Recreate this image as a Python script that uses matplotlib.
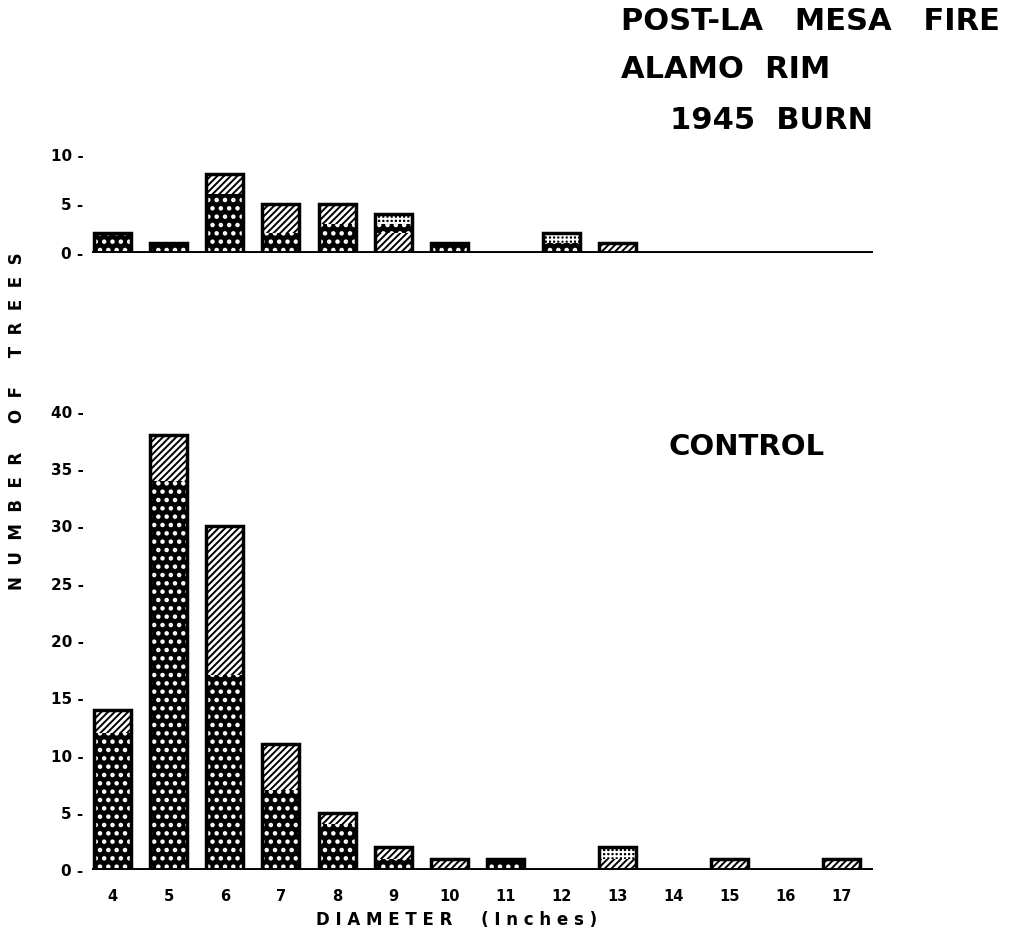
import numpy as np
import matplotlib
matplotlib.use("Agg")
import matplotlib.pyplot as plt

plt.rcParams['font.family'] = ['DejaVu Sans']
plt.rcParams['font.weight'] = 'bold'

diameters = [4, 5, 6, 7, 8, 9, 10, 11, 12, 13, 14, 15, 16, 17]

# 1945 burn
burn_dotted = [2, 1, 6, 2, 3, 1, 1, 0, 1, 0, 0, 0, 0, 0]
burn_hatched = [0, 0, 2, 3, 2, 2, 0, 0, 0, 1, 0, 0, 0, 0]
burn_other = [0, 0, 0, 0, 0, 1, 0, 0, 1, 0, 0, 0, 0, 0]
burn_hatched_first = [9]

# control
ctrl_dotted = [12, 34, 17, 7, 4, 1, 0, 1, 0, 0, 0, 0, 0, 0]
ctrl_hatched = [2, 4, 13, 4, 1, 1, 1, 0, 0, 1, 0, 1, 0, 1]
ctrl_other = [0, 0, 0, 0, 0, 0, 0, 0, 0, 1, 0, 0, 0, 0]
ctrl_hatched_first = []

W = 0.66


def draw_panel(ax, dotted, hatched, other, hatched_first):
    x = np.array(diameters)
    d = np.array(dotted, dtype=float)
    h = np.array(hatched, dtype=float)
    o = np.array(other, dtype=float)
    first = np.isin(x, hatched_first)
    d_bottom = np.where(first, h, 0)
    h_bottom = np.where(first, 0, d)
    o_bottom = d + h
    with plt.rc_context({'hatch.linewidth': 2.0}):
        ax.bar(x, d, W, bottom=d_bottom, color='black', edgecolor='white',
               hatch='..', linewidth=0)
    with plt.rc_context({'hatch.linewidth': 1.4}):
        ax.bar(x, h, W, bottom=h_bottom, color='white', edgecolor='black',
               hatch='/////', linewidth=0)
        ax.bar(x, o, W, bottom=o_bottom, color='black', edgecolor='white',
               hatch='++++', linewidth=0)
    tot = d + h + o
    ax.bar(x, tot, W, fill=False, edgecolor='black', linewidth=2.5)
    ax.axhline(0, color='black', lw=2.8, zorder=5)
    for s in ax.spines.values():
        s.set_visible(False)
    ax.set_xlim(3.63, 17.55)
    ax.tick_params(axis='y', length=0, pad=6, labelsize=11)
    ax.tick_params(axis='x', length=0, pad=14, labelsize=10.5)


fig = plt.figure(figsize=(10.1, 9.36), dpi=100)
ax1 = fig.add_axes([0.091, 0.7297, 0.773, 0.1154])
ax2 = fig.add_axes([0.091, 0.0705, 0.773, 0.5016])

draw_panel(ax1, burn_dotted, burn_hatched, burn_other, burn_hatched_first)
draw_panel(ax2, ctrl_dotted, ctrl_hatched, ctrl_other, ctrl_hatched_first)

ax1.set_ylim(0, 11)
ax1.set_yticks([0, 5, 10])
ax1.set_yticklabels([f"{v} -" for v in [0, 5, 10]])
ax1.set_xticks([])

ax2.set_ylim(0, 41)
ax2.set_yticks(range(0, 45, 5))
ax2.set_yticklabels([f"{v} -" for v in range(0, 45, 5)])
ax2.set_xticks(diameters)
ax2.set_xticklabels([str(v) for v in diameters])

fig.text(0.615, 0.977, "POST-LA   MESA   FIRE", fontsize=22, fontweight='bold', va='center')
fig.text(0.615, 0.926, "ALAMO  RIM", fontsize=22, fontweight='bold', va='center')
fig.text(0.663, 0.871, "1945  BURN", fontsize=22, fontweight='bold', va='center')
fig.text(0.662, 0.522, "CONTROL", fontsize=21, fontweight='bold', va='center')

fig.text(0.017, 0.55, "N  U  M  B  E  R     O  F     T  R  E  E  S", rotation=90,
         fontsize=12, fontweight='bold', ha='center', va='center')
fig.text(0.452, 0.017, "D I A M E T E R     ( I n c h e s )",
         fontsize=12, fontweight='bold', ha='center', va='center')

fig.savefig("out.png", dpi=100)
